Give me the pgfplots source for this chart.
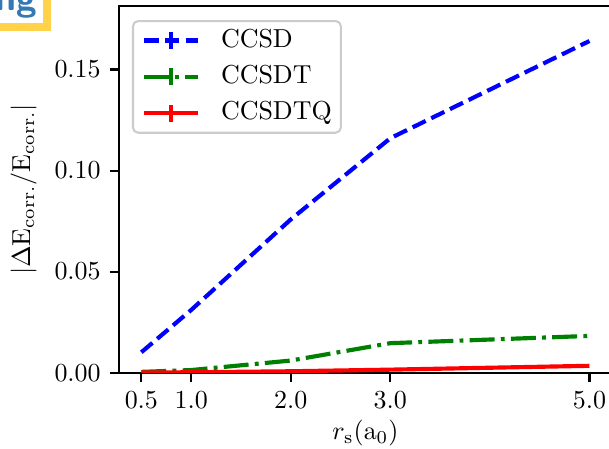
\documentclass[border=0pt]{standalone}
\usepackage{pgfplots}
\pgfplotsset{compat=1.18}
\definecolor{mplblue}{rgb}{0,0,1}
\definecolor{mplgreen}{rgb}{0,0.5,0}
\definecolor{mplred}{rgb}{1,0,0}
\definecolor{logoyellow}{HTML}{FFD24A}
\definecolor{logoblue}{HTML}{3478B4}
\pgfplotsset{
  errlegend/.style={legend image code/.code={
      \draw[##1] (0pt,0pt) -- (20.8pt,0pt);
      \draw[##1,solid] (10.4pt,-3.3pt) -- (10.4pt,3.3pt);}},
}
\begin{document}
\begin{tikzpicture}
\begin{axis}[
    name=ax,
    scale only axis,
    width=189.8pt, height=141.1pt,
    xmin=0.275, xmax=5.225, ymin=0, ymax=0.1813,
    tick pos=left,
    tick align=outside,
    major tick length=3.5pt,
    axis line style={line width=0.8pt},
    tick style={line width=0.8pt, black},
    xtick={0.5,1,2,3,5},
    xticklabels={0.5,1.0,2.0,3.0,5.0},
    ytick={0,0.05,0.10,0.15},
    scaled y ticks=false,
    yticklabel style={/pgf/number format/.cd, fixed, fixed zerofill, precision=2},
    xlabel={$r_{\mathrm{s}}(\mathrm{a}_0)$},
    xlabel style={yshift=2.5pt},
    ylabel={$|\Delta\mathrm{E}_{\mathrm{corr.}}/\mathrm{E}_{\mathrm{corr.}}|$},
    legend cell align=left,
    legend style={at={(rel axis cs:0,1)}, anchor=north west,
        xshift=5pt, yshift=-5.3pt,
        draw=black!20, line width=0.8pt, rounded corners=2pt,
        fill=white, fill opacity=0.8, text opacity=1,
        inner xsep=3.5pt, inner ysep=3pt, row sep=5pt,
        nodes={inner sep=0pt, text height=7pt, text depth=2pt},
        /tikz/every odd column/.append style={column sep=8pt}},
]
% CCSD
\addplot[mplblue, line width=1.6pt, dash pattern=on 5.6pt off 2.4pt, errlegend]
  coordinates {(0.5,0.0101) (1.0,0.0310) (2.0,0.0758) (3.0,0.1160) (5.0,0.1641)};
\addlegendentry{CCSD}
% CCSDT
\addplot[mplgreen, line width=1.6pt, dash pattern=on 9.6pt off 2.4pt on 1.5pt off 2.4pt, errlegend]
  coordinates {(0.5,0.0004) (1.0,0.0013) (2.0,0.0060) (3.0,0.0146) (5.0,0.0182)};
\addlegendentry{CCSDT}
% CCSDTQ
\addplot[mplred, line width=1.6pt, errlegend]
  coordinates {(0.5,0.0001) (1.0,0.0002) (2.0,0.0007) (3.0,0.0015) (5.0,0.0034)};
\addlegendentry{CCSDTQ}
\end{axis}
\pgfresetboundingbox
\path[use as bounding box] ([shift={(-45.8pt,-29.0pt)}]ax.south west) rectangle ([shift={(188.7pt,143.5pt)}]ax.south west);
% cropped logo in the corner
\fill[white] ([shift={(-45.8pt,143.5pt)}]ax.south west) rectangle ++(16.5pt,-8.9pt);
\draw[logoyellow, line width=3pt] ([shift={(-45.8pt,133.1pt)}]ax.south west) -- ++(18.1pt,0pt) -- ++(0pt,10.4pt);
\node[anchor=base east, inner sep=0pt, text=logoblue, font=\sffamily\bfseries\Large]
  at ([shift={(-31.4pt,139.3pt)}]ax.south west) {ng};
\end{tikzpicture}
\end{document}
